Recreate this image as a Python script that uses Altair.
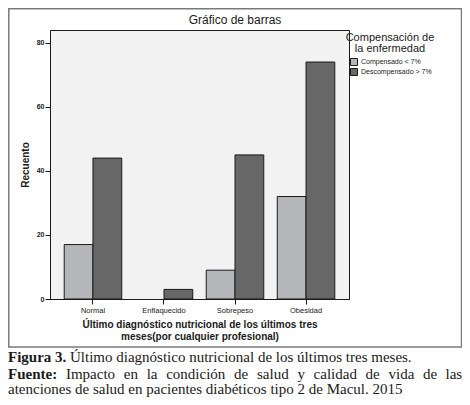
import altair as alt
import pandas as pd

# ---- data ----
categorias = ["Normal", "Enflaquecido", "Sobrepeso", "Obesidad"]
grupos = ["Compensado < 7%", "Descompensado > 7%"]
compensado = [17, 0, 9, 32]
descompensado = [44, 3, 45, 74]
y_ticks = [0, 20, 40, 60, 80]

titulo = "Gráfico de barras"
titulo_leyenda = ["Compensación de", "la enfermedad"]
titulo_x = ["Último diagnóstico nutricional de los últimos tres",
            "meses(por cualquier profesional)"]
titulo_y = "Recuento"

linea1_negrita = "Figura 3."
linea1_resto = "Último diagnóstico nutricional de los últimos tres meses."
linea2_negrita = "Fuente:"
linea2_palabras = ["Impacto", "en", "la", "condición", "de", "salud", "y",
                   "calidad", "de", "vida", "de", "las"]
linea3 = "atenciones de salud en pacientes diabéticos tipo 2 de Macul. 2015"

# layout (plot-area pixel coordinates) for the justified caption line
linea2_x = [15.9, 73.8, 96.7, 116.2, 184.1, 207.0, 247.4, 263.6, 315.6, 338.5, 373.0, 395.5]

FONT = "Liberation Sans"
SERIF = "Liberation Serif"
INK = "#1a1a1a"
LIGHT = "#b5b6ba"
DARK = "#676767"
CAP = 15

df = pd.DataFrame({
    "categoria": categorias * 2,
    "grupo": [grupos[0]] * len(categorias) + [grupos[1]] * len(categorias),
    "valor": compensado + descompensado,
})

one = pd.DataFrame({"k": [0]})

frame = alt.Chart(one).mark_rect(fillOpacity=0, stroke="#7a7a7a", strokeWidth=1.5).encode(
    x=alt.value(-41.2), x2=alt.value(411.5), y=alt.value(-21.2), y2=alt.value(317)
)

bars = alt.Chart(df).mark_bar(stroke=INK, strokeWidth=1).encode(
    x=alt.X("categoria:N", sort=categorias,
            scale=alt.Scale(domain=categorias, paddingInner=0.19, paddingOuter=0.2),
            axis=alt.Axis(labelAngle=0, labelFont=FONT, labelFontSize=7.5, labelColor=INK,
                          labelPadding=2, tickSize=5, tickColor=INK, domainColor=INK,
                          title=titulo_x, titleFont=FONT, titleFontSize=10,
                          titleFontWeight="bold", titleColor=INK, titleLineHeight=11.5,
                          titlePadding=6)),
    xOffset=alt.XOffset("grupo:N", sort=grupos,
                        scale=alt.Scale(domain=grupos, paddingInner=0, paddingOuter=0)),
    y=alt.Y("valor:Q", scale=alt.Scale(domain=[0, 84], nice=False),
            axis=alt.Axis(values=y_ticks, grid=False, labelFont=FONT, labelFontSize=7,
                          labelFontWeight="bold", labelColor=INK, labelPadding=1,
                          tickSize=5, tickColor=INK, domainColor=INK,
                          title=titulo_y, titleFont=FONT, titleFontSize=10,
                          titleFontWeight="bold", titleColor=INK, titlePadding=6)),
    color=alt.Color("grupo:N", sort=grupos,
                    scale=alt.Scale(domain=grupos, range=[LIGHT, DARK]),
                    legend=alt.Legend(title=None, orient="none", legendX=300, legendY=28,
                                      symbolType="square", symbolSize=49,
                                      symbolStrokeColor=INK, symbolStrokeWidth=1,
                                      symbolOpacity=1, labelFont=FONT, labelFontSize=7,
                                      labelColor=INK, labelOffset=3, rowPadding=-3,
                                      padding=0)),
).transform_filter("datum.valor > 0")

def txt(text, x, y, size, font=FONT, weight="normal", align="left"):
    return alt.Chart(one).mark_text(text=text, font=font, fontSize=size, fontWeight=weight,
                                    align=align, baseline="alphabetic", color=INK).encode(
        x=alt.value(x), y=alt.value(y))

title_mark = txt(titulo, 185, -6, 12, align="center")
leg1 = txt(titulo_leyenda[0], 340, 11, 11, align="center")
leg2 = txt(titulo_leyenda[1], 340, 22, 11, align="center")

cap1a = txt(linea1_negrita, -42, 332, CAP, font=SERIF, weight="bold")
cap1b = txt(linea1_resto, 20, 332, CAP, font=SERIF)
cap2a = txt(linea2_negrita, -42, 349, CAP, font=SERIF, weight="bold")
words = pd.DataFrame({"w": linea2_palabras, "px": linea2_x})
cap2b = alt.Chart(words).mark_text(font=SERIF, fontSize=CAP, align="left",
                                   baseline="alphabetic", color=INK).encode(
    x=alt.X("px:Q", scale=None), y=alt.value(349), text="w:N")
cap3 = txt(linea3, -42, 364, CAP, font=SERIF)

chart = alt.layer(frame, bars, title_mark, leg1, leg2, cap1a, cap1b, cap2a, cap2b, cap3).properties(
    width=299, height=269,
    autosize=alt.AutoSizeParams(type="none"),
    padding={"left": 42, "top": 22, "right": 113, "bottom": 98},
    background="white",
).configure_view(stroke=INK, strokeWidth=1, fill="#f2f2f2")

chart.save("out.html", embed_options={"renderer": "svg", "actions": False})
